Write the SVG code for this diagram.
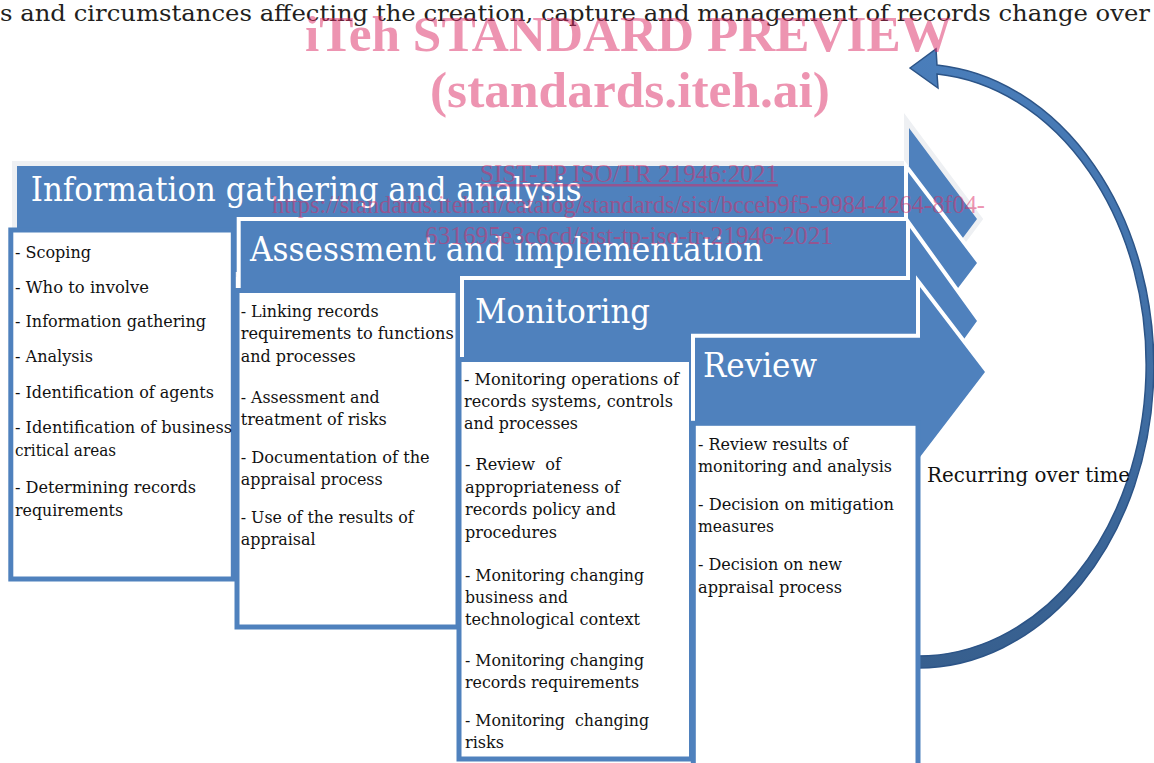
<svg xmlns="http://www.w3.org/2000/svg" width="1154" height="763" viewBox="0 0 1154 763">
<style>
.arrow{fill:#4f81bd;stroke:#ffffff;stroke-width:8;paint-order:stroke;stroke-linejoin:miter}
.first{stroke:#eef0f3;stroke-width:10}
.box{fill:#ffffff;stroke:#4f81bd;stroke-width:5}
.hdr{font-family:"DejaVu Serif","Liberation Serif",serif;font-size:34px;fill:#ffffff}
.li{font-family:"DejaVu Serif","Liberation Serif",serif;font-size:16px;fill:#111111}
.top{font-family:"DejaVu Serif","Liberation Serif",serif;font-size:23px;fill:#231f20}
.wm{font-family:"Liberation Serif","Times New Roman",serif;fill:#dc2a63;fill-opacity:0.5}
.wmb{font-weight:bold;font-size:50px}
.wms{font-size:25px}
</style>
<defs>
<linearGradient id="cyc" x1="0" y1="0" x2="0" y2="1">
<stop offset="0" stop-color="#4a7ebb"/>
<stop offset="1" stop-color="#375f8e"/>
</linearGradient>
</defs>
<rect width="1154" height="763" fill="#ffffff"/>
<text class="top" x="0" y="21" textLength="1150" lengthAdjust="spacingAndGlyphs">s and circumstances affecting the creation, capture and management of records change over</text>

<g id="connectors">
<path d="M 910 68 L 936 49 L 937 65 A 236 302 0 0 1 918 668 L 918 656 A 228 291.5 0 0 0 937 74 L 938 88 Z" fill="url(#cyc)" stroke="#2c5487" stroke-width="1.5" stroke-linejoin="miter"/>
<text class="li" x="927" y="482" style="font-size:20px" textLength="203" lengthAdjust="spacingAndGlyphs">Recurring over time</text>
</g>

<g id="stage-information-gathering">
<path class="arrow first" d="M 17 166 H 909 V 128 L 977 219 L 909 310 V 272 H 17 Z"/>
<text class="hdr" x="30.7" y="200.7" textLength="551" lengthAdjust="spacingAndGlyphs">Information gathering and analysis</text>
<rect class="box" x="10.8" y="230" width="222.5" height="349"/>
<text class="li" x="15" y="258.3" textLength="76" lengthAdjust="spacingAndGlyphs">- Scoping</text>
<text class="li" x="15" y="292.7" textLength="134" lengthAdjust="spacingAndGlyphs">- Who to involve</text>
<text class="li" x="15" y="327.3" textLength="191" lengthAdjust="spacingAndGlyphs">- Information gathering</text>
<text class="li" x="15" y="362.3" textLength="78" lengthAdjust="spacingAndGlyphs">- Analysis</text>
<text class="li" x="15" y="398.3" textLength="199" lengthAdjust="spacingAndGlyphs">- Identification of agents</text>
<text class="li" x="15" y="433.3" textLength="217" lengthAdjust="spacingAndGlyphs">- Identification of business</text>
<text class="li" x="15" y="455.7" textLength="101" lengthAdjust="spacingAndGlyphs">critical areas</text>
<text class="li" x="15" y="493.3" textLength="181" lengthAdjust="spacingAndGlyphs">- Determining records</text>
<text class="li" x="15" y="515.7" textLength="108" lengthAdjust="spacingAndGlyphs">requirements</text>
</g>

<g id="stage-assessment">
<path class="arrow" d="M 240.7 221 H 908 V 172 L 977 263 L 908 354 V 305 H 240.7 Z"/>
<text class="hdr" x="250" y="260.7" textLength="513" lengthAdjust="spacingAndGlyphs">Assessment and implementation</text>
<rect class="box" x="237" y="290.5" width="221" height="336.5"/>
<text class="li" x="240.7" y="316.7" textLength="138" lengthAdjust="spacingAndGlyphs">- Linking records</text>
<text class="li" x="240.7" y="339.3" textLength="213" lengthAdjust="spacingAndGlyphs">requirements to functions</text>
<text class="li" x="240.7" y="361.7" textLength="115" lengthAdjust="spacingAndGlyphs">and processes</text>
<text class="li" x="240.7" y="402.7" textLength="139" lengthAdjust="spacingAndGlyphs">- Assessment and</text>
<text class="li" x="240.7" y="425" textLength="146" lengthAdjust="spacingAndGlyphs">treatment of risks</text>
<text class="li" x="240.7" y="462.7" textLength="189" lengthAdjust="spacingAndGlyphs">- Documentation of the</text>
<text class="li" x="240.7" y="485" textLength="142" lengthAdjust="spacingAndGlyphs">appraisal process</text>
<text class="li" x="240.7" y="522.7" textLength="173" lengthAdjust="spacingAndGlyphs">- Use of the results of</text>
<text class="li" x="240.7" y="545" textLength="75" lengthAdjust="spacingAndGlyphs">appraisal</text>
</g>

<g id="stage-monitoring">
<path class="arrow" d="M 464 280 H 910 V 228 L 977 321 L 910 414 V 362 H 464 Z"/>
<text class="hdr" x="475" y="323" textLength="175" lengthAdjust="spacingAndGlyphs">Monitoring</text>
<rect class="box" x="459" y="359.5" width="232.5" height="399.5"/>
<text class="li" x="464" y="385" textLength="215" lengthAdjust="spacingAndGlyphs">- Monitoring operations of</text>
<text class="li" x="464" y="406.7" textLength="209" lengthAdjust="spacingAndGlyphs">records systems, controls</text>
<text class="li" x="464" y="429.3" textLength="114" lengthAdjust="spacingAndGlyphs">and processes</text>
<text class="li" x="465" y="470" textLength="96" lengthAdjust="spacingAndGlyphs" xml:space="preserve">- Review  of</text>
<text class="li" x="465" y="492.7" textLength="155" lengthAdjust="spacingAndGlyphs">appropriateness of</text>
<text class="li" x="465" y="515" textLength="151" lengthAdjust="spacingAndGlyphs">records policy and</text>
<text class="li" x="465" y="537.7" textLength="92" lengthAdjust="spacingAndGlyphs">procedures</text>
<text class="li" x="465" y="580.7" textLength="179" lengthAdjust="spacingAndGlyphs">- Monitoring changing</text>
<text class="li" x="465" y="602.7" textLength="103" lengthAdjust="spacingAndGlyphs">business and</text>
<text class="li" x="465" y="625" textLength="175" lengthAdjust="spacingAndGlyphs">technological context</text>
<text class="li" x="465" y="666" textLength="179" lengthAdjust="spacingAndGlyphs">- Monitoring changing</text>
<text class="li" x="465" y="687.7" textLength="174" lengthAdjust="spacingAndGlyphs">records requirements</text>
<text class="li" x="465" y="726" textLength="184" lengthAdjust="spacingAndGlyphs" xml:space="preserve">- Monitoring  changing</text>
<text class="li" x="465" y="747.7" textLength="39" lengthAdjust="spacingAndGlyphs">risks</text>
</g>

<g id="stage-review">
<path class="arrow" d="M 695 337.7 H 920 V 287 L 985 372 L 920 457 V 425 H 695 Z"/>
<text class="hdr" x="703" y="377" textLength="114" lengthAdjust="spacingAndGlyphs">Review</text>
<rect class="box" x="693.3" y="423.3" width="224.7" height="370"/>
<text class="li" x="698" y="450" textLength="150" lengthAdjust="spacingAndGlyphs">- Review results of</text>
<text class="li" x="698" y="472.3" textLength="194" lengthAdjust="spacingAndGlyphs">monitoring and analysis</text>
<text class="li" x="698" y="510" textLength="196" lengthAdjust="spacingAndGlyphs">- Decision on mitigation</text>
<text class="li" x="698" y="532.3" textLength="76" lengthAdjust="spacingAndGlyphs">measures</text>
<text class="li" x="698" y="570" textLength="144" lengthAdjust="spacingAndGlyphs">- Decision on new</text>
<text class="li" x="698" y="592.7" textLength="144" lengthAdjust="spacingAndGlyphs">appraisal process</text>
</g>

<g id="watermark">
<text class="wm wmb" x="305" y="51" textLength="647" lengthAdjust="spacingAndGlyphs">iTeh STANDARD PREVIEW</text>
<text class="wm wmb" x="430" y="107" textLength="400" lengthAdjust="spacingAndGlyphs">(standards.iteh.ai)</text>
<text class="wm wms" x="480" y="182" textLength="298" lengthAdjust="spacingAndGlyphs" text-decoration="underline">SIST-TP ISO/TR 21946:2021</text>
<text class="wm wms" x="272" y="213" textLength="713" lengthAdjust="spacingAndGlyphs">https://standards.iteh.ai/catalog/standards/sist/bcceb9f5-9984-4264-8f04-</text>
<text class="wm wms" x="425" y="244" textLength="408" lengthAdjust="spacingAndGlyphs">631695e3c6cd/sist-tp-iso-tr-21946-2021</text>
</g>
</svg>
